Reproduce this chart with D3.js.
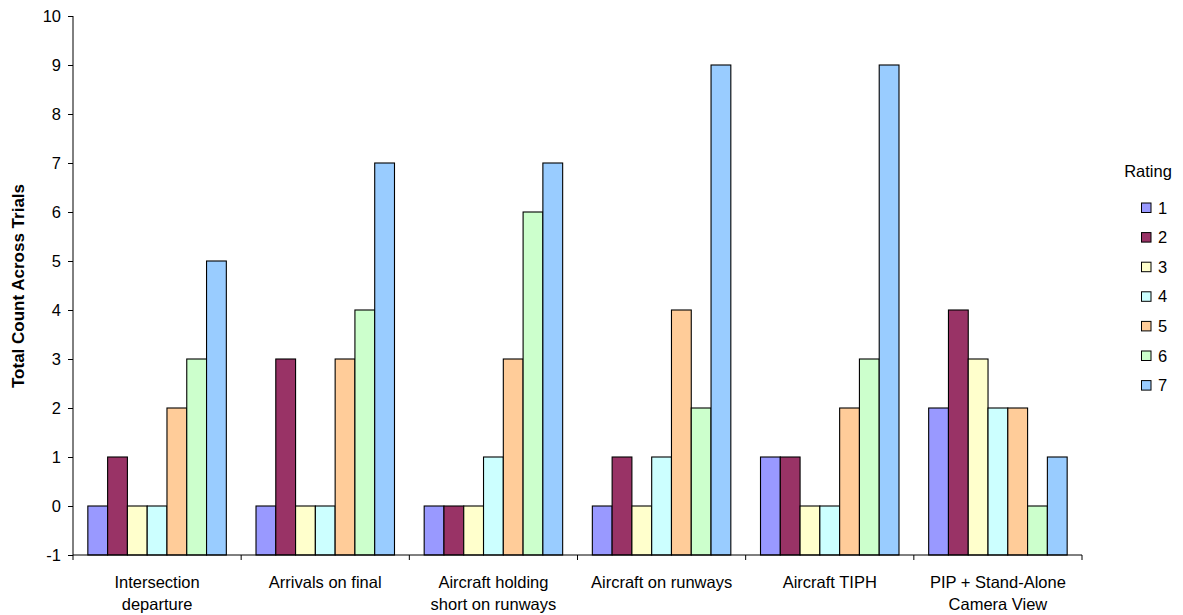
<!DOCTYPE html>
<html><head><meta charset="utf-8">
<script src="https://cdn.jsdelivr.net/npm/d3@7"></script>
<style>body{margin:0;background:#fff}svg text{font-family:"Liberation Sans",Arial,sans-serif}</style>
</head><body><svg id="c" width="1183" height="615"></svg>
<script>
const categories = [["Intersection","departure"],["Arrivals on final"],["Aircraft holding","short on runways"],["Aircraft on runways"],["Aircraft TIPH"],["PIP + Stand-Alone","Camera View"]];
const ratings = ["1","2","3","4","5","6","7"];
const colors = ["#9999FF","#993366","#FFFFCC","#CCFFFF","#FFCC99","#CCFFCC","#99CCFF"];
const values = [
  [0,1,0,0,2,3,5],
  [0,3,0,0,3,4,7],
  [0,0,0,1,3,6,7],
  [0,1,0,1,4,2,9],
  [1,1,0,0,2,3,9],
  [2,4,3,2,2,0,1]
];
const yTicks = [-1,0,1,2,3,4,5,6,7,8,9,10];

(function(){
const svg = d3.select("#c");
const pL = 73, pR = 1082, pT = 16, pB = 555;
const FS = 16.5;
const y = d3.scaleLinear().domain([-1,10]).range([pB, pT]);
const x0 = d3.scaleBand().domain(d3.range(categories.length)).range([pL, pR]).paddingInner(0).paddingOuter(0);
const catW = x0.bandwidth();
const barW = catW / 8.5;
const x1 = d3.scaleBand().domain(d3.range(ratings.length)).range([0.75*barW, 0.75*barW + 7*barW]);

const g = svg.append("g");
values.forEach((row, ci) => {
  g.selectAll(null).data(row).enter().append("rect")
    .attr("x", (d,i) => x0(ci) + x1(i))
    .attr("width", x1.bandwidth())
    .attr("y", d => y(d))
    .attr("height", d => y(-1) - y(d))
    .attr("fill", (d,i) => colors[i])
    .attr("stroke", "#000").attr("stroke-width", 1.1);
});

// Y axis
const yAxis = d3.axisLeft(y).tickValues(yTicks).tickSize(5).tickPadding(7).tickFormat(d => String(d));
const ya = svg.append("g").attr("transform", `translate(${pL},0)`).call(yAxis);
ya.attr("font-family", null);
ya.selectAll("text").attr("font-size", FS).attr("fill", "#000");
ya.selectAll("line,path").attr("stroke", "#000");
ya.select(".domain").attr("d", `M0,${pT}V${pB}`);

// X axis
const xAxisG = svg.append("g").attr("transform", `translate(0,${pB})`);
xAxisG.append("line").attr("x1", pL).attr("x2", pR).attr("y1", 0).attr("y2", 0).attr("stroke", "#000");
const tickPos = d3.range(categories.length + 1).map(i => pL + i*catW);
xAxisG.selectAll(null).data(tickPos).enter().append("line")
  .attr("x1", d=>d).attr("x2", d=>d).attr("y1", 0).attr("y2", 5).attr("stroke", "#000");
categories.forEach((lines, ci) => {
  const t = xAxisG.append("text").attr("text-anchor", "middle").attr("font-size", FS)
    .attr("x", x0(ci) + catW/2).attr("y", 33);
  lines.forEach((l, li) => t.append("tspan").attr("x", x0(ci) + catW/2).attr("dy", li === 0 ? 0 : 22).text(l));
});

// Y title
svg.append("text").attr("transform", "translate(24,286) rotate(-90)")
  .attr("text-anchor", "middle").attr("font-size", 17).attr("font-weight", "bold")
  .text("Total Count Across Trials");

// Legend
svg.append("text").attr("x", 1148).attr("y", 177).attr("text-anchor", "middle").attr("font-size", FS).text("Rating");
const leg = svg.append("g");
ratings.forEach((r, i) => {
  const yy = 207.5 + i*29.6;
  leg.append("rect").attr("x", 1141.5).attr("y", yy - 4.5).attr("width", 9.5).attr("height", 9.5)
    .attr("fill", colors[i]).attr("stroke", "#000").attr("stroke-width", 1);
  leg.append("text").attr("x", 1158).attr("y", yy + 6).attr("font-size", FS).text(r);
});
})();
</script></body></html>
